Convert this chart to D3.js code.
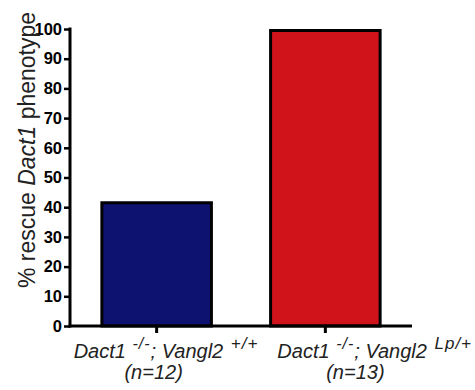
<!DOCTYPE html>
<html><head><meta charset="utf-8">
<script src="https://cdn.jsdelivr.net/npm/d3@7"></script>
<style>body{margin:0;background:#fff}svg{display:block}</style>
</head><body>
<script>
const categories = ["Vangl2 +/+", "Vangl2 Lp/+"];
const values = [42, 100];
const superscripts = ["+/+", "Lp/+"];
const counts = ["(n=12)", "(n=13)"];
const colors = ["#0d1170", "#d0121b"];
const yTicks = [0,10,20,30,40,50,60,70,80,90,100];

const W = 475, H = 390;
const svg = d3.select("body").append("svg").attr("width", W).attr("height", H);
const x = d3.scaleBand().domain(categories).range([70, 412]).paddingInner(0.333).paddingOuter(0.18);
const y = d3.scaleLinear().domain([0, 100]).range([326, 29]);

// bars
svg.selectAll("rect.bar").data(values).join("rect")
  .attr("class","bar")
  .attr("x",(d,i)=>x(categories[i])+1.5)
  .attr("width",x.bandwidth()-3)
  .attr("y",d=>y(d)+1.5)
  .attr("height",d=>y(0)-y(d)-1.5)
  .attr("fill",(d,i)=>colors[i])
  .attr("stroke","#000").attr("stroke-width",3);

// y axis
const ya = svg.append("g").attr("transform","translate(70,0)")
  .call(d3.axisLeft(y).tickValues(yTicks).tickSize(6).tickPadding(2));
ya.select(".domain").attr("d",`M0,${y(100)-1.5}V${y(0)+1.5}`).attr("stroke-width",3);
ya.selectAll(".tick line").attr("stroke-width",2.5);
ya.selectAll(".tick text").attr("font-family","'Liberation Sans Narrow','Arial Narrow','Liberation Sans',Arial,sans-serif")
  .attr("font-weight","bold").attr("font-size",16.5).attr("fill","#000");

// x axis
const xa = svg.append("g").attr("transform",`translate(0,${y(0)})`)
  .call(d3.axisBottom(x).tickSize(7).tickFormat(""));
xa.select(".domain").attr("d",`M68.5,0H412`).attr("stroke-width",3);
xa.selectAll(".tick line").attr("stroke-width",3);

// x labels
const offs1 = [-83, -48], offs2 = [-3, 30];
categories.forEach((c,i)=>{
  const bc = x(c)+x.bandwidth()/2;
  const t = svg.append("text").attr("x",bc+offs1[i]).attr("y",358).attr("text-anchor","start")
    .attr("font-family","'Liberation Sans',Arial,sans-serif").attr("font-style","italic")
    .attr("font-size",20).attr("fill","#222");
  t.append("tspan").text("Dact1 ");
  t.append("tspan").attr("font-size",16).attr("dy",-9).attr("dx",1).attr("letter-spacing",1).text("-/-");
  t.append("tspan").attr("dy",9).text("; Vangl2 ");
  t.append("tspan").attr("font-size",17).attr("dy",-9).attr("dx",2).attr("letter-spacing",1).text(superscripts[i]);
  svg.append("text").attr("x",bc+offs2[i]).attr("y",379).attr("text-anchor","middle")
    .attr("font-family","'Liberation Sans',Arial,sans-serif").attr("font-style","italic")
    .attr("font-size",20).attr("fill","#222").text(counts[i]);
});

// y label
const yl = svg.append("text").attr("transform","translate(35,150) rotate(-90)")
  .attr("text-anchor","middle").attr("font-family","'Liberation Sans',Arial,sans-serif")
  .attr("font-size",23).attr("fill","#222");
yl.append("tspan").text("% rescue ");
yl.append("tspan").attr("font-style","italic").text("Dact1");
yl.append("tspan").text(" phenotype");
</script>
</body></html>
